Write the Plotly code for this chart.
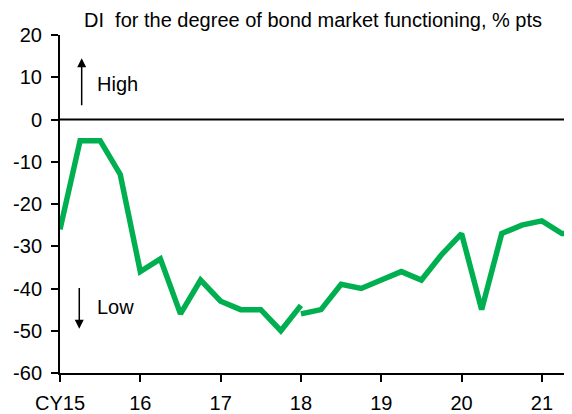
import plotly.graph_objects as go

# quarterly survey readings, x = calendar year + quarter offset
quarters_a = [15.0, 15.25, 15.5, 15.75, 16.0, 16.25, 16.5, 16.75,
              17.0, 17.25, 17.5, 17.75, 18.0]
di_a = [-26, -5, -5, -13, -36, -33, -46, -38, -43, -45, -45, -50, -44]

# series break at 18 (survey revision)
quarters_b = [18.0, 18.25, 18.5, 18.75, 19.0, 19.25, 19.5, 19.75,
              20.0, 20.25, 20.5, 20.75, 21.0, 21.25, 21.5]
di_b = [-46, -45, -39, -40, -38, -36, -38, -32, -27, -45, -27, -25, -24, -27, -27]

x_tick_vals = [15, 16, 17, 18, 19, 20, 21]
x_tick_text = ["CY15", "16", "17", "18", "19", "20", "21"]
y_tick_vals = [20, 10, 0, -10, -20, -30, -40, -50, -60]
y_tick_text = ["20", "10", "0", "-10", "-20", "-30", "-40", "-50", "-60"]

GREEN = "#00B050"
FONT = "Liberation Sans, Arial, sans-serif"

# page body has an 8px default margin, so the figure is sized to fit inside it
W, H = 564, 406

fig = go.Figure()

for xs, ys in [(quarters_a, di_a), (quarters_b, di_b)]:
    fig.add_trace(go.Scatter(
        x=xs,
        y=ys,
        mode="lines",
        line=dict(color=GREEN, width=5.5),
        showlegend=False,
        hoverinfo="skip"
    ))

# zero line
fig.add_shape(type="line", xref="paper", x0=0, x1=1, yref="y", y0=0, y1=0,
              line=dict(color="black", width=2))

# chart heading, sits just above the plot's top-left corner
fig.add_annotation(x=0, y=1, xref="paper", yref="paper", xshift=22, yshift=15,
                   text="DI&nbsp; for the degree of bond market functioning, % pts",
                   showarrow=False, xanchor="left", yanchor="middle",
                   font=dict(size=20, color="black", family=FONT))

# High / Low markers
fig.add_annotation(x=15.27, y=14.5, ax=15.27, ay=3, xref="x", yref="y",
                   axref="x", ayref="y", text="", showarrow=True,
                   arrowhead=2, arrowsize=1.2, arrowwidth=1.5, arrowcolor="black")
fig.add_annotation(x=15.44, y=8.5, text="High", showarrow=False,
                   xanchor="left", yanchor="middle",
                   font=dict(size=20, color="black", family=FONT))
fig.add_annotation(x=15.24, y=-49.5, ax=15.24, ay=-39.5, xref="x", yref="y",
                   axref="x", ayref="y", text="", showarrow=True,
                   arrowhead=2, arrowsize=1.2, arrowwidth=1.5, arrowcolor="black")
fig.add_annotation(x=15.43, y=-44.3, text="Low", showarrow=False,
                   xanchor="left", yanchor="middle",
                   font=dict(size=20, color="black", family=FONT))

fig.update_layout(
    width=W,
    height=H,
    margin=dict(l=52, r=0, t=27, b=39),
    paper_bgcolor="white",
    plot_bgcolor="white",
    font=dict(family=FONT, size=20, color="black"),
    xaxis=dict(
        range=[15, 21.375],
        tickvals=x_tick_vals,
        ticktext=x_tick_text,
        showgrid=False,
        zeroline=False,
        showline=True,
        linecolor="black",
        linewidth=2,
        ticks="outside",
        ticklen=7,
        tickwidth=2,
        tickcolor="black",
        ticklabelstandoff=4,
        tickfont=dict(size=20)
    ),
    yaxis=dict(
        range=[-60, 20],
        tickvals=y_tick_vals,
        ticktext=y_tick_text,
        showgrid=False,
        zeroline=False,
        showline=True,
        linecolor="black",
        linewidth=2,
        ticks="outside",
        ticklen=7,
        tickwidth=2,
        tickcolor="black",
        ticklabelstandoff=5,
        tickfont=dict(size=20)
    )
)

fig.write_html("out.html")
